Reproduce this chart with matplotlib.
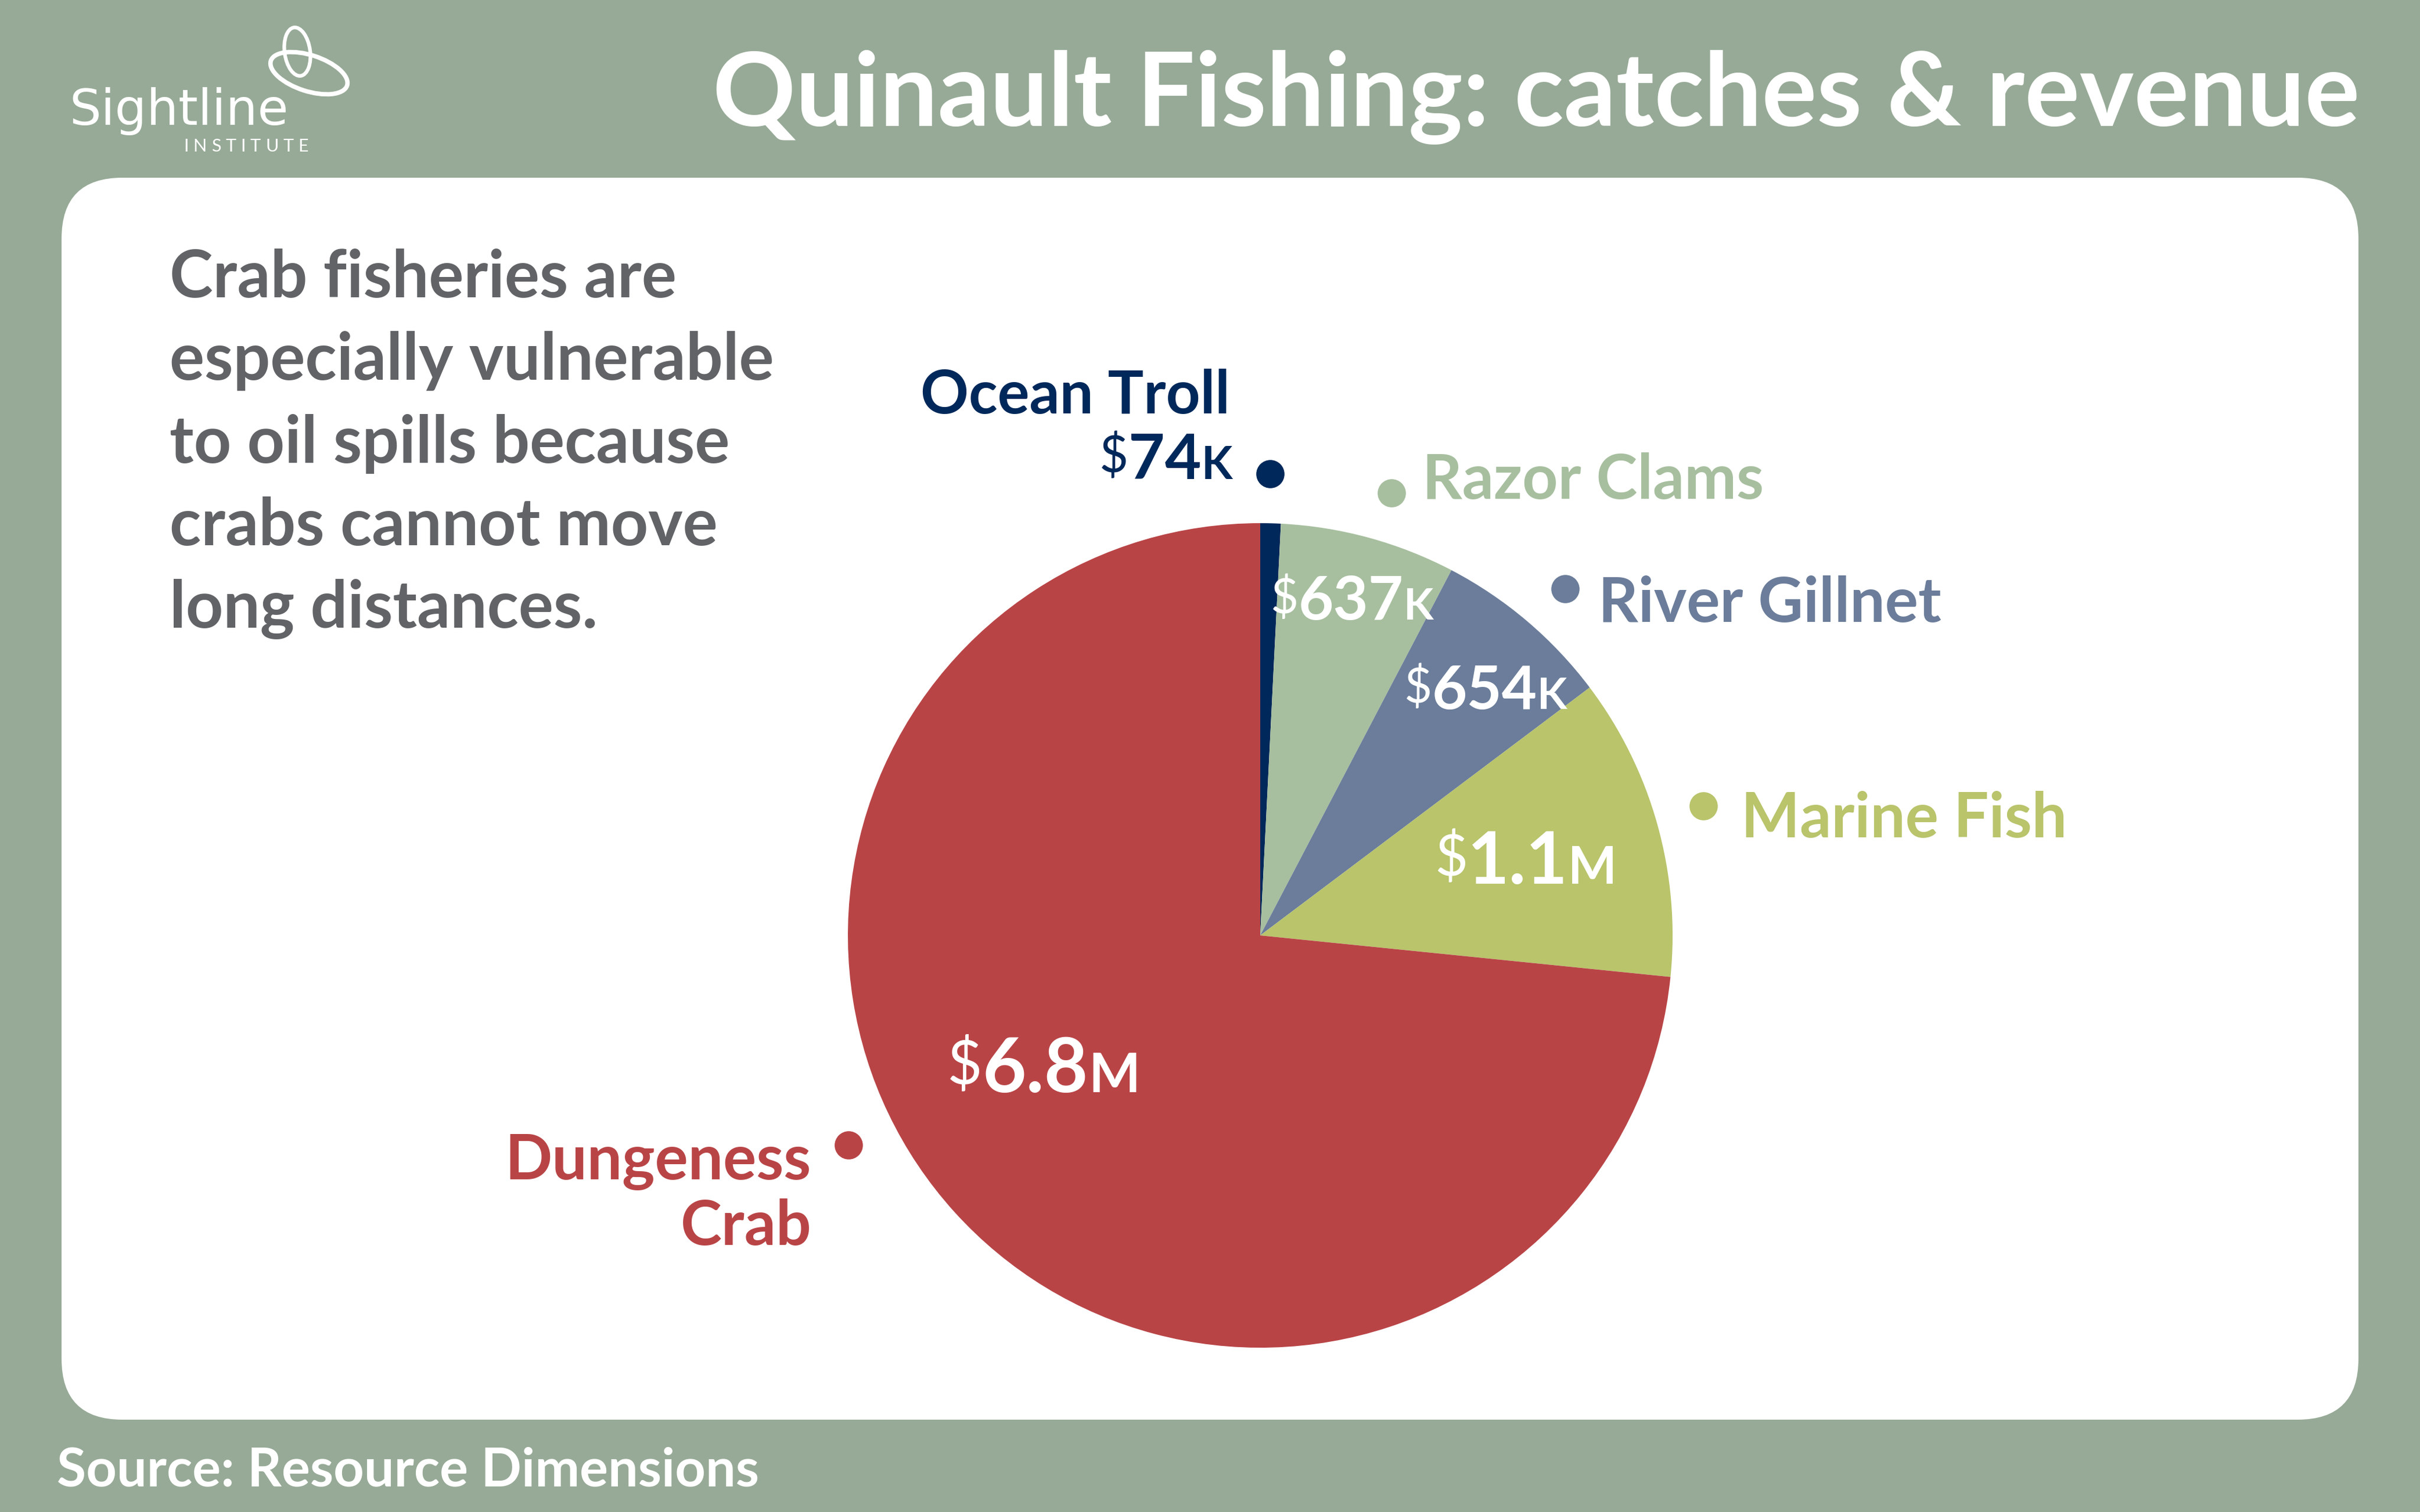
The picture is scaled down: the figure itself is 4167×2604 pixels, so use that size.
import matplotlib
matplotlib.use("Agg")
import matplotlib.pyplot as plt
from matplotlib.patches import FancyBboxPatch, Ellipse
import numpy as np

# ---------------- data ----------------
categories = ["Ocean Troll", "Razor Clams", "River Gillnet", "Marine Fish", "Dungeness\nCrab"]
revenue_k = [74, 637, 654, 1100, 6800]          # revenue in thousands of dollars
slice_colors = ["#00285a", "#a7bf9f", "#6b7d9a", "#b9c46b", "#b94446"]
title = "Quinault Fishing: catches & revenue"
note_lines = ["Crab fisheries are", "especially vulnerable", "to oil spills because",
              "crabs cannot move", "long distances."]
source = "Source: Resource Dimensions"

FONT = "Lato"
W, H = 4167, 2604
BG = "#97aa97"

fig = plt.figure(figsize=(W / 100, H / 100), dpi=100)
fig.patch.set_facecolor(BG)
renderer = fig.canvas.get_renderer()


def overlay():
    a = fig.add_axes([0, 0, 1, 1])
    a.set_xlim(0, W)
    a.set_ylim(H, 0)
    a.axis("off")
    a.patch.set_alpha(0)
    return a


ax = overlay()

# white rounded panel
panel = FancyBboxPatch((106, 306), 3955, 2139, boxstyle="round,pad=0,rounding_size=105",
                       facecolor="white", edgecolor="none")
ax.add_patch(panel)

# title
ax.text(4063, 217, title, ha="right", va="baseline", color="white", fontsize=127.5,
        fontweight="bold", family=FONT)

# logo
ax.add_patch(Ellipse((512, 89), 44, 84, angle=-8, fill=False, ec="white", lw=4.5))
ax.add_patch(Ellipse((532, 126), 138, 62, angle=18, fill=False, ec="white", lw=5.5))
ax.text(119, 215, "Sightline", ha="left", va="baseline", color="white", fontsize=62,
        family="DejaVu Sans")
inst = "INSTITUTE"
inst_txt = [ax.text(0, 261, ch, ha="left", va="baseline", color="white", fontsize=22,
                    family=FONT) for ch in inst]
inst_w = [t.get_window_extent(renderer).width for t in inst_txt]
gap = (531 - 316 - sum(inst_w)) / (len(inst) - 1)
xx = 316
for t, w in zip(inst_txt, inst_w):
    t.set_x(xx)
    xx += w + gap

# note text
for i, line in enumerate(note_lines):
    ax.text(292, 512 + i * 142.3, line, ha="left", va="baseline", color="#616366",
            fontsize=81, fontweight="bold", family=FONT)

# source
ax.text(98, 2559, source, ha="left", va="baseline", color="white", fontsize=66,
        fontweight="bold", family=FONT)

# ---------------- pie ----------------
cx, cy, R = 2170, 1611, 710
pax = fig.add_axes([(cx - R) / W, (H - cy - R) / H, 2 * R / W, 2 * R / H])
pax.pie(revenue_k, colors=slice_colors, startangle=90, counterclock=False,
        radius=1, wedgeprops=dict(linewidth=0))
pax.set_xlim(-1, 1)
pax.set_ylim(-1, 1)
pax.axis("off")
pax.patch.set_alpha(0)

dot_angles = [88.8, 73.5, 48.7, 16.3, 207.0]
dot_r = 1.12
for ang, col in zip(dot_angles, slice_colors):
    a = np.deg2rad(ang)
    pax.plot(dot_r * np.cos(a), dot_r * np.sin(a), "o", ms=35, color=col,
             mec="none", clip_on=False)

top = overlay()

# category labels (pixel layout)
label_pos = [(2118, 712, "right", 74), (2449, 859, "left", 77), (2752, 1071, "left", 77),
             (2998, 1442, "left", 77), (1397, 2031, "right", 77)]
for name, col, (x, y, ha, fs) in zip(categories, slice_colors, label_pos):
    lines = name.split("\n")
    for j, ln in enumerate(lines):
        top.text(x, y + j * 113, ln, ha=ha, va="baseline", color=col, fontsize=fs,
                 fontweight="bold", family=FONT)


def fmt(v):
    if v >= 1000:
        return f"{v / 1000:.1f}", "M"
    return f"{v}", "K"


def money(x, yc, v, size, color, ha):
    num, unit = fmt(v)
    px = size * 100 / 72
    cap = 0.7165 * px
    base = yc + cap / 2
    t1 = top.text(0, base - 0.15 * cap, "$", fontsize=size * 0.8, color=color,
                  family=FONT, va="baseline", ha="left")
    t2 = top.text(0, base, num, fontsize=size, color=color, family=FONT,
                  fontweight="bold", va="baseline", ha="left")
    t3 = top.text(0, base, unit, fontsize=size * 0.72, color=color, family=FONT,
                  fontweight="bold", va="baseline", ha="left")
    ts = [t1, t2, t3]
    ws = [t.get_window_extent(renderer).width for t in ts]
    tot = sum(ws)
    x0 = x - tot / 2 if ha == "center" else x - tot
    for t, w in zip(ts, ws):
        t.set_x(x0)
        x0 += w


value_pos = [(2122, 786, 78, slice_colors[0], "right"),
             (2328, 1030, 75, "white", "center"),
             (2558, 1184, 75, "white", "center"),
             (2627, 1478, 89, "white", "center"),
             (1797, 1834, 94, "white", "center")]
for v, (x, yc, size, col, ha) in zip(revenue_k, value_pos):
    money(x, yc, v, size, col, ha)

fig.savefig("out.png", dpi=100, facecolor=BG)
